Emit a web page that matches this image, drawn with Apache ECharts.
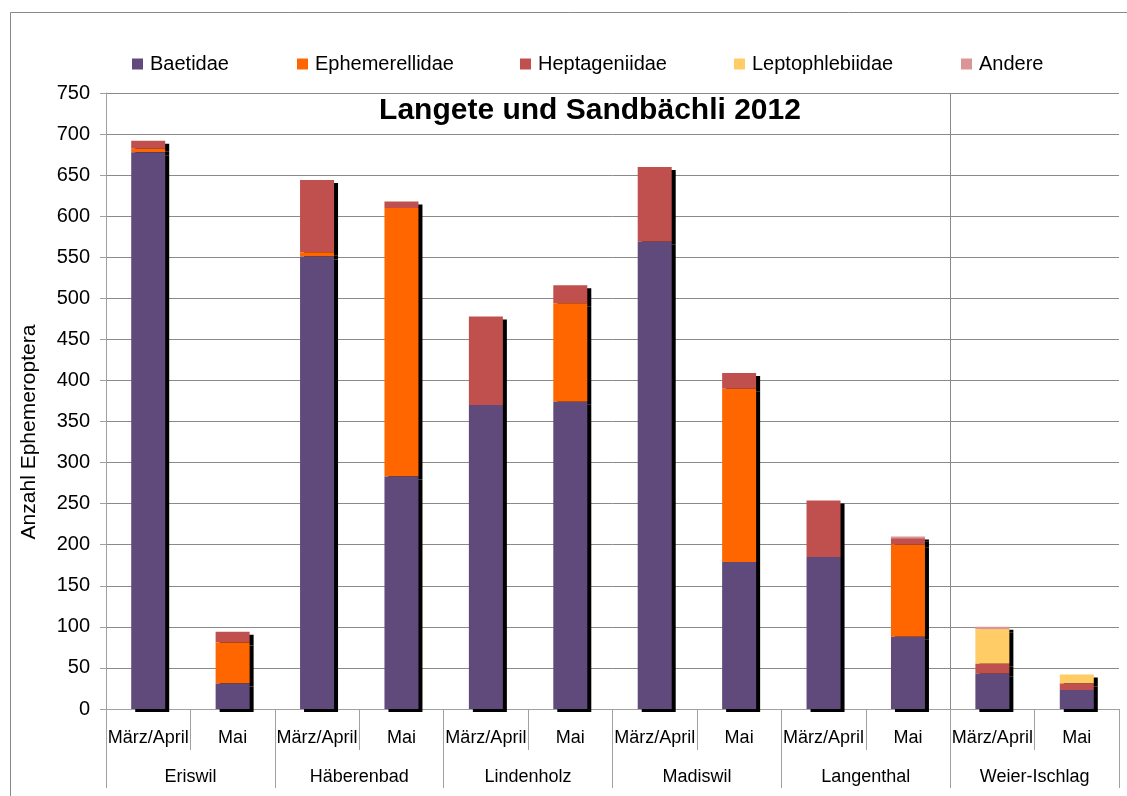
<!DOCTYPE html>
<html>
<head>
<meta charset="utf-8">
<script src="https://cdn.jsdelivr.net/npm/echarts@6/dist/echarts.min.js"></script>
<style>
  html, body { margin: 0; padding: 0; background: #fff; }
  #chart { width: 1127px; height: 796px; }
</style>
</head>
<body>
<div id="chart"></div>
<script>
const months = ['März/April', 'Mai', 'März/April', 'Mai', 'März/April', 'Mai',
  'März/April', 'Mai', 'März/April', 'Mai', 'März/April', 'Mai'];
const sites = ['Eriswil', 'Häberenbad', 'Lindenholz', 'Madiswil', 'Langenthal', 'Weier-Ischlag'];

const baetidae = [678, 31, 551, 283, 370, 374, 569, 179, 185, 88, 43, 23];
const ephemerellidae = [4, 50, 5, 327, 0, 120, 0, 211, 0, 112, 0, 0];
const heptageniidae = [10, 13, 88, 8, 108, 22, 91, 19, 69, 8, 12, 8];
const leptophlebiidae = [0, 0, 0, 0, 0, 0, 0, 0, 0, 0, 42, 11];
const andere = [0, 0, 0, 0, 0, 0, 0, 0, 0, 2, 3, 0];

const yTicks = { min: 0, max: 750, step: 50 };

const chart = echarts.init(document.getElementById('chart'));
const font = 'Liberation Sans, Arial, sans-serif';
const grey = '#8a8a8a';

const seriesDefs = [
  { name: 'Baetidae', data: baetidae, color: '#604A7B' },
  { name: 'Ephemerellidae', data: ephemerellidae, color: '#FF6600' },
  { name: 'Heptageniidae', data: heptageniidae, color: '#C0504D' },
  { name: 'Leptophlebiidae', data: leptophlebiidae, color: '#FFCC66' },
  { name: 'Andere', data: andere, color: '#D99694' }
];
const legendLeft = [127, 292, 515, 729, 956];

const options = {
  backgroundColor: '#fff',
  animation: false,
  title: {
    text: 'Langete und Sandbächli 2012',
    left: 585, top: 91, textAlign: 'center',
    textStyle: { fontFamily: font, fontSize: 30, fontWeight: 'bold', color: '#000' }
  },
  legend: seriesDefs.map((s, i) => ({
    data: [s.name],
    left: legendLeft[i], top: 49,
    itemWidth: 11, itemHeight: 11, itemGap: 0,
    icon: 'rect',
    textStyle: { fontFamily: font, fontSize: 20, color: '#000', padding: [0, 0, 0, 2] }
  })),
  grid: { left: 106, right: 8, top: 93, bottom: 87 },
  xAxis: [
    {
      type: 'category',
      data: months,
      axisLine: { lineStyle: { color: '#a0a0a0' } },
      axisTick: { show: true, length: 41, lineStyle: { color: '#a0a0a0' } },
      axisLabel: { interval: 0, margin: 20, fontFamily: font, fontSize: 18, color: '#000' },
      splitLine: { show: false }
    },
    {
      type: 'category',
      data: sites,
      position: 'bottom',
      axisLine: { show: false },
      axisTick: { show: true, length: 79, lineStyle: { color: '#a0a0a0' } },
      axisLabel: { interval: 0, margin: 59, fontFamily: font, fontSize: 18, color: '#000' },
      splitLine: { show: false }
    }
  ],
  yAxis: {
    type: 'value',
    min: yTicks.min, max: yTicks.max, interval: yTicks.step,
    name: 'Anzahl Ephemeroptera',
    nameLocation: 'middle', nameGap: 66,
    nameTextStyle: { fontFamily: font, fontSize: 21, color: '#000', padding: [0, 62, 0, 0] },
    axisLine: { show: true, lineStyle: { color: '#a0a0a0' } },
    axisTick: { show: true, length: 6, lineStyle: { color: '#a0a0a0' } },
    axisLabel: { margin: 16, fontFamily: font, fontSize: 20, color: '#000' },
    splitLine: { lineStyle: { color: grey } }
  },
  series: seriesDefs.map((s, i) => ({
    name: s.name,
    type: 'bar',
    stack: 'total',
    xAxisIndex: 0,
    barWidth: 34,
    z: 10 - i,
    data: s.data,
    itemStyle: {
      color: s.color,
      shadowColor: '#000',
      shadowBlur: 0,
      shadowOffsetX: 4,
      shadowOffsetY: 3
    }
  }))
};

chart.setOption(options);

// frame + separator between Langenthal and Weier-Ischlag, placed from the axis scale
const xa = chart.convertToPixel({ xAxisIndex: 0 }, 9);
const xb = chart.convertToPixel({ xAxisIndex: 0 }, 10);
const sepX = Math.round((xa + xb) / 2) + 0.5;
const yTop = chart.convertToPixel({ yAxisIndex: 0 }, yTicks.max);
const yBot = chart.convertToPixel({ yAxisIndex: 0 }, yTicks.min);
chart.setOption({
  graphic: [
    {
      type: 'rect',
      shape: { x: 10.5, y: 12.5, width: 1130, height: 800 },
      style: { fill: 'none', stroke: '#888', lineWidth: 1 },
      silent: true
    },
    {
      type: 'line',
      shape: { x1: sepX, y1: yTop, x2: sepX, y2: yBot },
      style: { stroke: grey, lineWidth: 1 },
      silent: true, z: 1
    }
  ]
});
</script>
</body>
</html>
